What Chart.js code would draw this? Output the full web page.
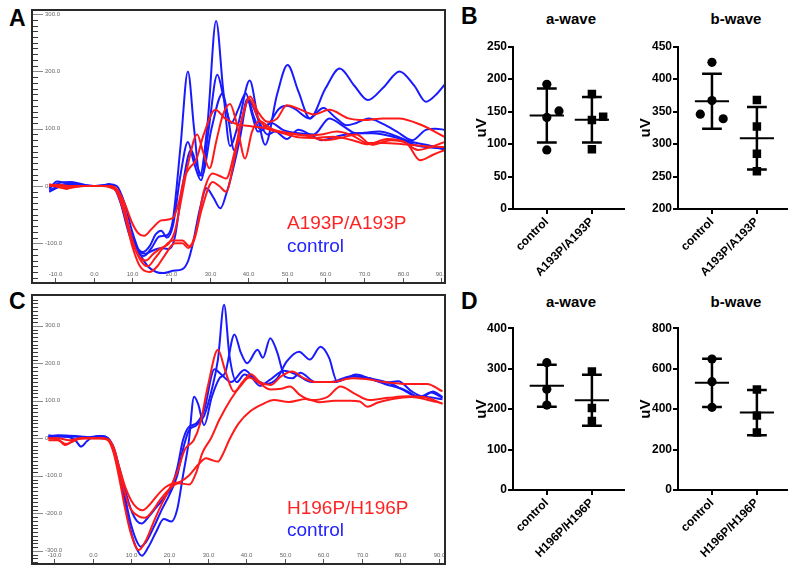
<!DOCTYPE html>
<html>
<head>
<meta charset="utf-8">
<script src="https://cdn.jsdelivr.net/npm/chart.js@4"></script>
<style>
  body { margin: 0; background: #fff; }
  #fig { position: relative; width: 800px; height: 575px; font-family: "Liberation Sans", Arial, sans-serif; overflow: hidden; }
  .letter { position: absolute; font-size: 23px; font-weight: bold; line-height: 23px; }
  .frame { position: absolute; border: 2px solid #2a2a2a; }
  .frame canvas { display: block; }
  .ttl { position: absolute; width: 100px; text-align: center; font-size: 15px; font-weight: bold; line-height: 18px; }
  .leg { position: absolute; font-size: 19px; line-height: 19px; white-space: nowrap; }
  .dot { position: absolute; }
</style>
</head>
<body>
<div id="fig">
  <div class="letter" style="left:9px;top:7px">A</div>
  <div class="letter" style="left:461px;top:5px">B</div>
  <div class="letter" style="left:9px;top:290px">C</div>
  <div class="letter" style="left:461px;top:290px">D</div>

  <div class="frame" style="left:31px;top:9px;width:411px;height:271px"><canvas id="traceA" width="411" height="271"></canvas></div>
  <div class="frame" style="left:31px;top:294px;width:411px;height:267px"><canvas id="traceC" width="411" height="267"></canvas></div>

  <div class="leg" style="left:287px;top:213px;color:#ff2424">A193P/A193P</div>
  <div class="leg" style="left:287px;top:236px;color:#2424ff">control</div>
  <div class="leg" style="left:287px;top:498px;color:#ff2424">H196P/H196P</div>
  <div class="leg" style="left:287px;top:520px;color:#2424ff">control</div>

  <div class="ttl" style="left:521px;top:10px">a-wave</div>
  <div class="ttl" style="left:686px;top:10px">b-wave</div>
  <div class="ttl" style="left:521px;top:293px">a-wave</div>
  <div class="ttl" style="left:686px;top:293px">b-wave</div>

  <canvas class="dot" id="bA" width="157" height="255" style="left:473px;top:30px"></canvas>
  <canvas class="dot" id="bB" width="156" height="255" style="left:637px;top:30px"></canvas>
  <canvas class="dot" id="dA" width="157" height="265" style="left:473px;top:310px"></canvas>
  <canvas class="dot" id="dB" width="156" height="265" style="left:637px;top:310px"></canvas>
</div>

<script>
Chart.defaults.font.family = "'Liberation Sans', Arial, sans-serif";
Chart.defaults.animation = false;

const red = "#ff1a1a";
const blue = "#1a1aff";

// ERG traces, [ms, uV]
const aCtrl1 = [[-11.5,-5],[-9.5,8],[-7,5],[-4,3],[-1,0],[2,1],[4,3],[5.5,-5],[7,-30],[9,-80],[11,-112],[13,-122],[15,-108],[17,-88],[19,-86],[20.5,-60],[22.5,70],[24.4,200],[26,100],[27.5,18],[29.5,110],[31.7,288],[33.5,170],[35.3,70],[37.5,110],[40.4,184],[42.5,120],[44.4,72],[47.5,160],[50.2,211],[53,165],[56,118],[60,170],[63.7,205],[67.5,175],[71,150],[75,172],[79.2,200],[83,175],[86,147],[89,162],[91,178]];
const aCtrl2 = [[-11.5,-8],[-9,0],[-6,5],[-3,2],[0,0],[2,1],[4,2],[5.5,-3],[7,-25],[9,-70],[11,-105],[12.8,-115],[14.5,-105],[16,-85],[17.5,-78],[19,-90],[20.5,-70],[22.5,20],[24.4,77],[26,40],[27.8,10],[29.8,100],[32,194],[33.8,150],[35.6,110],[37.5,135],[39.4,162],[41,125],[42.5,95],[45,105],[48,135],[50,140],[52,135],[55.8,118],[59.5,136],[62.5,120],[65.5,106],[68,110],[71.2,118],[75,108],[78.5,95],[82.5,80],[86,98],[88.5,100],[91,98]];
const aCtrl3 = [[-11.5,-3],[-9,5],[-6,7],[-3,3],[0,0],[2,0],[4,2],[6,-8],[8,-50],[10,-95],[12,-115],[13.5,-118],[15.5,-112],[17.5,-108],[19.5,-110],[21,-90],[23,0],[25.2,63],[26.5,40],[28,18],[30.5,100],[33.4,162],[34.8,120],[36.4,62],[38,100],[39.8,152],[41.5,120],[43,100],[46,110],[49,98],[53,92],[57,90],[61,118],[64.5,105],[68,92],[74,95],[78,88],[81.7,78],[86,72],[91,63]];
const aCtrl4 = [[-11.5,-10],[-9,-2],[-6,2],[-3,0],[0,0],[2,0],[4,3],[6,0],[8,-30],[10,-80],[12,-118],[14,-140],[16.2,-150],[18,-152],[20.5,-148],[23,-145],[24.5,-130],[25.7,-100],[27.5,-40],[29.2,-4],[31,-20],[32.8,-39],[34.5,-10],[35.6,16],[37.7,77],[40,150],[41.5,135],[43,110],[45,90],[47,95],[50,82],[53,98],[56,90],[59,80],[64,88],[68,92],[72,92],[78,85],[84,70],[91,65]];
const aMut1 = [[-11.5,2],[-9,-2],[-7,-5],[-5,-1],[-2,0],[0,0],[2,0],[4,0],[6,-5],[8,-30],[10,-65],[11.5,-82],[13,-87],[15,-75],[17.5,-60],[20.5,-56],[22,-30],[23.5,15],[25,33],[26.5,45],[28.5,90],[31.5,133],[34,118],[37,108],[41,104],[45,100],[49,92],[53,85],[57,84],[62,86],[67,80],[71,73],[76,82],[80,78],[84,63],[91,77]];
const aMut2 = [[-11.5,0],[-9,2],[-6,0],[-3,0],[0,0],[2,0],[4,-2],[6,-10],[8,-45],[10,-95],[12,-125],[13.5,-130],[15.5,-118],[17.5,-108],[19.5,-100],[21,-80],[22.5,-30],[24.5,40],[26.8,90],[28.3,60],[30,31],[31.8,80],[33.5,125],[35.3,143],[37,110],[39.2,48],[41,95],[43,113],[46,100],[50,92],[55,88],[60,80],[64,84],[68,90],[72,72],[77,80],[81,75],[84.5,45],[88,55],[91,63]];
const aMut3 = [[-11.5,0],[-9,0],[-6,-2],[-3,0],[0,0],[2,0],[4,0],[6,-8],[8,-40],[10,-95],[12,-128],[14,-140],[16,-125],[18,-108],[20.5,-95],[23,-95],[24.8,-105],[26.5,-80],[28.5,-10],[30.8,22],[32.5,18],[34.3,13],[36.5,60],[38.5,120],[40.5,156],[42.5,130],[45,112],[47.5,118],[50,141],[53,135],[57,125],[61,133],[66,118],[70,115],[75,118],[79,118],[85,106],[91,85]];
const aMut4 = [[-11.5,3],[-9,0],[-6,-3],[-3,0],[0,0],[2,0],[4,0],[6,-10],[8,-50],[10,-105],[12,-140],[14.5,-150],[16.5,-140],[18.5,-120],[21,-100],[23,-100],[24.5,-108],[26,-95],[28,-40],[30.8,7],[32.5,0],[34.3,-10],[36.5,50],[38.5,120],[40.3,152],[42.5,120],[45,100],[48,95],[51,92],[55,88],[59,90],[63,95],[67,88],[71,75],[75,75],[80,73],[85,70],[91,68]];

const cCtrl1 = [[-11.5,5],[-9,8],[-6,7],[-3,5],[-1,3],[1,5],[2.5,6],[4,0],[5.5,-30],[7,-90],[8.5,-160],[10,-230],[11.5,-275],[12.5,-289],[14,-275],[16,-235],[18,-190],[20,-150],[22,-100],[23.5,-30],[25,20],[27,35],[29,60],[31,130],[32.6,210],[34.2,356],[35.6,220],[37.5,150],[39.5,170],[41.5,160],[43.5,140],[46,155],[49.8,180],[53,170],[57,150],[62,150],[67,165],[71,162],[76,145],[81,130],[85,110],[88,122],[91,108]];
const cCtrl2 = [[-11.5,8],[-9,5],[-6,3],[-4.5,-5],[-3,-22],[-1.5,-8],[0,3],[2,6],[4,0],[5.5,-35],[7,-100],[8.5,-180],[10,-250],[11.5,-295],[12.8,-313],[14.5,-290],[16.5,-250],[18.5,-215],[20.5,-222],[22,-190],[23.5,-100],[25,-10],[26.4,111],[27.5,90],[29,35],[31,110],[33,160],[34.5,175],[36.9,277],[38.5,230],[40.2,200],[42.9,236],[44.3,215],[46.2,267],[48,230],[50,165],[52,160],[54,175],[58,150],[63,150],[68,166],[72,160],[77,148],[81,128],[84,112],[87,110],[91,104]];
const cCtrl3 = [[-11.5,3],[-9,5],[-6,5],[-3,3],[0,2],[2,5],[4,0],[5.5,-25],[7,-80],[8.5,-140],[10,-190],[11.5,-220],[12.8,-227],[14.5,-210],[16.5,-185],[18.5,-160],[20.5,-130],[22,-80],[23.5,-5],[25,30],[27,40],[29,75],[31.7,184],[33.5,170],[36,150],[39.5,182],[42,160],[45,145],[48,160],[50.5,205],[53.7,231],[56.5,210],[59.3,244],[61.5,215],[63.6,152],[66,160],[68.5,170],[72,160],[76,148],[79.5,152],[83,125],[86,112],[88.5,125],[91,110]];
const cMut1 = [[-11.5,0],[-9,-3],[-7,-18],[-5,-5],[-3,0],[0,0],[2,0],[4,-5],[5.5,-40],[7,-110],[8.5,-190],[10,-255],[12,-298],[14,-270],[16,-220],[18,-175],[20,-135],[22,-90],[24,-30],[26.3,-5],[28,40],[30,140],[32.6,236],[34.5,180],[36.8,124],[39,150],[41.2,171],[43.5,150],[46.3,142],[49,165],[51.9,178],[55,160],[58,150],[62,150],[67.5,160],[71,158],[76,150],[82,145],[87,145],[91,125]];
const cMut2 = [[-11.5,0],[-9,0],[-6,-5],[-4,-2],[-2,0],[0,0],[2,0],[4,-3],[5.5,-30],[7,-90],[8.5,-150],[10,-190],[12,-208],[13.6,-212],[15.5,-195],[17.5,-165],[20,-135],[22.5,-120],[25.2,-123],[27,-90],[28.5,-40],[30.8,0],[33,50],[36,105],[38.5,140],[40.8,162],[43,150],[46.3,130],[49,132],[51.3,138],[54,115],[57,102],[61,110],[64.5,138],[68,120],[72,102],[77,108],[82,112],[87,108],[91,92]];
const cMut3 = [[-11.5,-5],[-9,-5],[-7,-15],[-5,-8],[-3,0],[0,0],[2,0],[4,-3],[5.5,-25],[7,-80],[8.5,-130],[10,-165],[11.5,-185],[13,-192],[15,-175],[17,-150],[19,-130],[21,-120],[22.7,-116],[25,-100],[27.5,-70],[29.5,-53],[31,-58],[32.6,-62],[34,-40],[35.5,-5],[38,40],[41,72],[44,90],[47.2,102],[51,97],[55.5,105],[59,96],[63,100],[67,100],[69.5,98],[71.5,84],[74,95],[78,105],[83,110],[87,103],[91,93]];

const traceXTicks = [-10, 0, 10, 20, 30, 40, 50, 60, 70, 80, 90];
const aYTicks = [-100, 0, 100, 200, 300];
const cYTicks = [-300, -200, -100, 0, 100, 200, 300];

// amplitudes (uV)
const groupsB = ["control", "A193P/A193P"];
const groupsD = ["control", "H196P/H196P"];
const bAwaveCtrl = [192, 141, 151, 91];
const bAwaveMut = [177, 137, 142, 92];
const bAwaveMean = [144, 137.5];
const bAwaveSd = [41.5, 35];
const bBwaveCtrl = [426, 367, 346, 339];
const bBwaveMut = [368, 327, 285, 258];
const bBwaveMean = [366, 309];
const bBwaveSd = [42.5, 48];
const dAwaveCtrl = [315, 249, 210];
const dAwaveMut = [293, 203, 171];
const dAwaveMean = [258, 222];
const dAwaveSd = [52, 63];
const dBwaveCtrl = [648, 536, 409];
const dBwaveMut = [497, 368, 284];
const dBwaveMean = [530, 383];
const dBwaveSd = [119, 112];

// small sideways offsets so dots don't overlap (category units)
const bAwaveJit = [[0, 0, 0.27, 0], [0, 0, 0.25, 0]];
const bBwaveJit = [[0, 0, -0.26, 0.25], [0, 0, 0, 0]];
const noJit = [[0, 0, 0], [0, 0, 0]];

const frameTicks = {
  id: "frameTicks",
  beforeDatasetsDraw(chart, args, opts) {
    const { ctx, chartArea: a, scales: { x, y } } = chart;
    ctx.save();
    ctx.lineWidth = 1;
    for (let v = Math.ceil(y.min / 10); v * 10 <= y.max; v++) {
      const py = Math.round(y.getPixelForValue(v * 10)) + 0.5;
      const major = opts.yTicks.includes(v * 10);
      ctx.strokeStyle = major ? "#8a8a8a" : "#3a3a3a";
      ctx.beginPath();
      ctx.moveTo(a.left, py);
      ctx.lineTo(a.left + (major ? 10 : 5), py);
      ctx.stroke();
    }
    ctx.font = "6px 'Liberation Sans', Arial, sans-serif";
    ctx.fillStyle = "#666";
    ctx.textBaseline = "middle";
    ctx.textAlign = "left";
    opts.yTicks.forEach((v) => {
      ctx.fillText(v === 0 ? "0" : v.toFixed(1), a.left + 12, y.getPixelForValue(v));
    });
    ctx.textAlign = "center";
    ctx.strokeStyle = "#555";
    opts.xTicks.forEach((t) => {
      const px = Math.round(x.getPixelForValue(t)) + 0.5;
      ctx.beginPath();
      ctx.moveTo(px, a.bottom);
      ctx.lineTo(px, a.bottom - 4);
      ctx.stroke();
      ctx.fillText(t.toFixed(1), px, a.bottom - 8);
    });
    ctx.restore();
  },
};

function traceChart(id, ctrl, mut, xr, yr, yTicks) {
  const toXY = (d) => d.map(([x, y]) => ({ x, y }));
  const datasets = [
    ...mut.map((d) => ({ data: toXY(d), borderColor: red })),
    ...ctrl.map((d) => ({ data: toXY(d), borderColor: blue })),
  ];
  return new Chart(document.getElementById(id), {
    type: "line",
    data: { datasets },
    plugins: [frameTicks],
    options: {
      responsive: false,
      layout: { padding: 0 },
      elements: {
        point: { radius: 0 },
        line: { borderWidth: 2, cubicInterpolationMode: "monotone" },
      },
      plugins: {
        legend: { display: false },
        tooltip: { enabled: false },
        frameTicks: { xTicks: traceXTicks, yTicks },
      },
      scales: {
        x: { type: "linear", min: xr[0], max: xr[1], display: false },
        y: { type: "linear", min: yr[0], max: yr[1], display: false },
      },
    },
  });
}

traceChart("traceA", [aCtrl1, aCtrl2, aCtrl3, aCtrl4], [aMut1, aMut2, aMut3, aMut4], [-15.7, 90.7], [-167.5, 305.4], aYTicks);
traceChart("traceC", [cCtrl1, cCtrl2, cCtrl3], [cMut1, cMut2, cMut3], [-15.5, 91.4], [-332.5, 379.5], cYTicks);

function dotPlot(id, cats, groups, jit, means, sds, yr, step, xr, padTop, axisW, axisH) {
  const seg = (x0, y0, x1, y1, w) => ({
    data: [{ x: x0, y: y0 }, { x: x1, y: y1 }],
    showLine: true,
    borderColor: "#000",
    borderWidth: w,
    pointRadius: 0,
  });
  const datasets = [];
  groups.forEach((vals, i) => {
    datasets.push({
      data: vals.map((v, k) => ({ x: i + jit[i][k], y: v })),
      pointStyle: i === 0 ? "circle" : "rect",
      pointRadius: i === 0 ? 4.6 : 6,
      backgroundColor: "#000",
      borderColor: "#000",
      borderWidth: 0,
    });
    const m = means[i], s = sds[i];
    datasets.push(seg(i - 0.38, m, i + 0.38, m, 2));
    datasets.push(seg(i, m - s, i, m + s, 2.5));
    datasets.push(seg(i - 0.22, m + s, i + 0.22, m + s, 2.5));
    datasets.push(seg(i - 0.22, m - s, i + 0.22, m - s, 2.5));
  });
  const axisGrid = { drawOnChartArea: false, color: "#000", lineWidth: 2, tickLength: 5 };
  const axisBorder = { color: "#000", width: 2 };
  const tickFont = { size: 12, weight: "bold" };
  return new Chart(document.getElementById(id), {
    type: "scatter",
    data: { datasets },
    options: {
      responsive: false,
      layout: { padding: { top: padTop, right: 3, left: 0, bottom: 0 } },
      plugins: { legend: { display: false }, tooltip: { enabled: false } },
      scales: {
        x: {
          type: "linear",
          min: xr[0],
          max: xr[1],
          afterBuildTicks: (s) => { s.ticks = cats.map((c, i) => ({ value: i })); },
          afterFit: (s) => { s.height = axisH; },
          ticks: {
            callback: (v) => cats[v],
            minRotation: 45,
            maxRotation: 45,
            autoSkip: false,
            color: "#000",
            font: tickFont,
            padding: 1,
          },
          grid: axisGrid,
          border: axisBorder,
        },
        y: {
          min: yr[0],
          max: yr[1],
          afterFit: (s) => { s.width = axisW; },
          ticks: { stepSize: step, color: "#000", font: tickFont, padding: 1 },
          grid: axisGrid,
          border: axisBorder,
          title: { display: true, text: "uV", color: "#000", font: { size: 15, weight: "bold" }, padding: 0 },
        },
      },
    },
  });
}

dotPlot("bA", groupsB, [bAwaveCtrl, bAwaveMut], bAwaveJit, bAwaveMean, bAwaveSd, [0, 250], 50, [-0.75, 1.712], 16.7, 40, 76);
dotPlot("bB", groupsB, [bBwaveCtrl, bBwaveMut], bBwaveJit, bBwaveMean, bBwaveSd, [200, 450], 50, [-0.756, 1.67], 16.7, 41, 76);
dotPlot("dA", groupsD, [dAwaveCtrl, dAwaveMut], noJit, dAwaveMean, dAwaveSd, [0, 400], 100, [-0.75, 1.712], 18.3, 40, 85);
dotPlot("dB", groupsD, [dBwaveCtrl, dBwaveMut], noJit, dBwaveMean, dBwaveSd, [0, 800], 200, [-0.756, 1.67], 18.3, 41, 85);
</script>
</body>
</html>
